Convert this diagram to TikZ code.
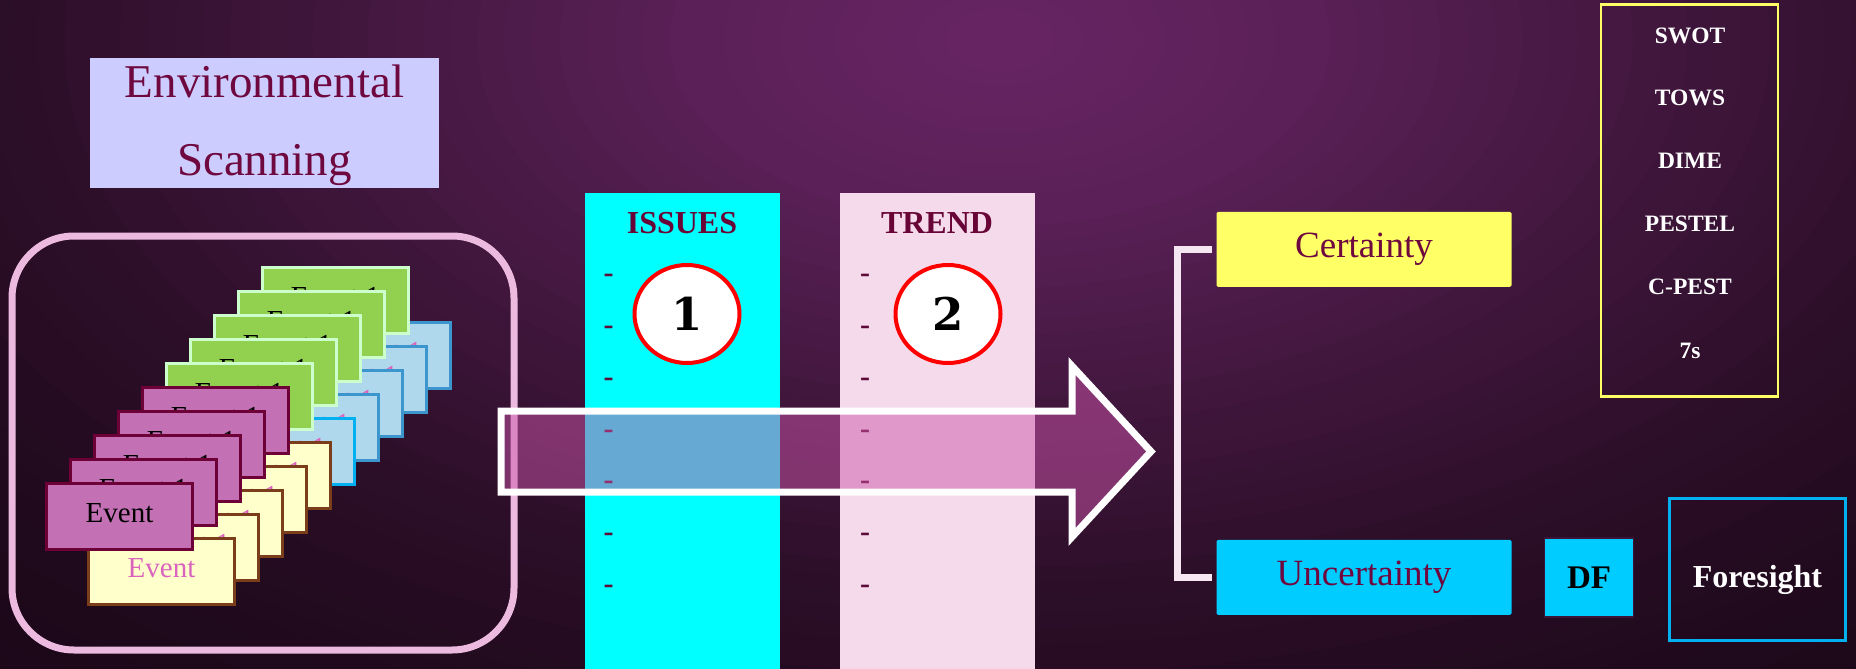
\documentclass[tikz,border=0pt]{standalone}
\usepackage{fontspec}
\setmainfont{Liberation Serif}
\newfontfamily\numfont{DejaVu Serif}
\usetikzlibrary{shapes.geometric}
\definecolor{bgA}{RGB}{104,37,100}
\definecolor{bgB}{RGB}{90,32,87}
\definecolor{bgC}{RGB}{66,23,62}
\definecolor{bgD}{RGB}{44,14,40}
\definecolor{bgE}{RGB}{31,9,28}
\definecolor{bgF}{RGB}{24,7,22}
\definecolor{envfill}{RGB}{204,204,255}
\definecolor{maroon}{RGB}{110,8,62}
\definecolor{hdr}{RGB}{104,4,54}
\definecolor{dashc}{RGB}{92,10,56}
\definecolor{roundc}{RGB}{236,186,222}
\definecolor{cpurple}{RGB}{196,112,180}
\definecolor{cpurpleB}{RGB}{110,0,56}
\definecolor{cgreen}{RGB}{146,208,80}
\definecolor{cgreenB}{RGB}{204,255,204}
\definecolor{cyellow}{RGB}{255,255,204}
\definecolor{cyellowB}{RGB}{122,62,26}
\definecolor{cblue}{RGB}{176,216,236}
\definecolor{cblueB}{RGB}{60,150,205}
\definecolor{cblueF}{RGB}{0,176,240}
\definecolor{cpinktext}{RGB}{216,100,190}
\definecolor{colcyan}{RGB}{0,255,255}
\definecolor{colpink}{RGB}{245,218,236}
\definecolor{arrowfill}{RGB}{204,85,169}
\definecolor{brk}{RGB}{246,230,242}
\definecolor{certfill}{RGB}{255,255,102}
\definecolor{uncfill}{RGB}{0,204,255}
\definecolor{forec}{RGB}{0,176,240}
\definecolor{listc}{RGB}{255,255,102}
\definecolor{dfborder}{RGB}{60,20,55}
\begin{document}
\begin{tikzpicture}[x=1pt,y=-1pt,
  card/.style={rectangle, minimum width=146pt, minimum height=66pt, inner sep=0pt, line width=3pt, text height=20pt, text depth=9pt, font=\fontsize{29}{34}\selectfont},
  purplecard/.style={card, fill=cpurple, draw=cpurpleB, text=black},
  greencard/.style={card, fill=cgreen, draw=cgreenB, text=black},
  yellowcard/.style={card, fill=cyellow, draw=cyellowB, text=cpinktext},
  bluecard/.style={card, fill=cblue, draw=cblueB, text=cpinktext},
  bluefront/.style={bluecard, draw=cblueF},
  dashmark/.style={anchor=base, inner sep=0pt, text=dashc, font=\bfseries\fontsize{30}{30}\selectfont},
  colbox/.style={rectangle, anchor=north west, inner sep=0pt, minimum height=476pt},
  numcirc/.style={ellipse, draw=red, line width=4pt, fill=white, minimum width=105pt, minimum height=98pt, inner sep=0pt, font=\numfont\bfseries\fontsize{45}{45}\selectfont},
  header/.style={anchor=base, inner sep=0pt, text=hdr, font=\bfseries\fontsize{32}{32}\selectfont},
  outcome/.style={rectangle, minimum width=295pt, minimum height=75pt, inner sep=0pt, rounded corners=1.5pt, text=maroon, font=\fontsize{37}{40}\selectfont},
  listitem/.style={anchor=base, inner sep=0pt, text=white, font=\bfseries\fontsize{23.5}{24}\selectfont},
  envtext/.style={anchor=base, inner sep=0pt, text=maroon, font=\fontsize{47}{50}\selectfont}
]
\useasboundingbox (0,0) rectangle (1856,669);
\begin{scope}
\clip (0,0) rectangle (1856,669);
\fill[bgF] (0,0) rectangle (1856,669);
\foreach \i in {0,...,63}{
  \pgfmathsetmacro\rr{1.6-0.025*\i}
  \pgfmathsetmacro\rx{1100*\rr}
  \pgfmathsetmacro\ry{620*\rr}
  \ifdim\rr pt>1.2pt
    \pgfmathsetmacro\tt{(\rr-1.2)/0.4*100}\colorlet{bgtmp}{bgF!\tt!bgE}
  \else\ifdim\rr pt>0.9pt
    \pgfmathsetmacro\tt{(\rr-0.9)/0.3*100}\colorlet{bgtmp}{bgE!\tt!bgD}
  \else\ifdim\rr pt>0.6pt
    \pgfmathsetmacro\tt{(\rr-0.6)/0.3*100}\colorlet{bgtmp}{bgD!\tt!bgC}
  \else\ifdim\rr pt>0.3pt
    \pgfmathsetmacro\tt{(\rr-0.3)/0.3*100}\colorlet{bgtmp}{bgC!\tt!bgB}
  \else
    \pgfmathsetmacro\tt{\rr/0.3*100}\colorlet{bgtmp}{bgB!\tt!bgA}
  \fi\fi\fi\fi
  \fill[bgtmp] (1000,40) ellipse [x radius=\rx, y radius=\ry];
}
\end{scope}

% Environmental Scanning
\node[rectangle, fill=envfill, minimum width=349pt, minimum height=130pt, inner sep=0pt] (env) at (264.5,123.3) {};
\node[envtext] (envt1) at (264.5,98) {Environmental};
\node[envtext] (envt2) at (264.5,175) {Scanning};

% rounded frame
\draw[roundc, line width=7pt, rounded corners=62pt] (12,236) rectangle (514,650);

% back diagonal: blue then yellow
\foreach \k in {9,8,7,6}{
  \node[bluecard] (yb\k) at ({161.5+24*\k},{571.5-24*\k}) {Event 1};
}
\node[bluefront] (yb5) at (281.5,451.5) {Event 1};
\foreach \k in {4,3,2,1}{
  \node[yellowcard] (yb\k) at ({161.5+24*\k},{571.5-24*\k}) {Event 1};
}
\node[yellowcard] (yb0) at (161.5,571.5) {Event};

% front diagonal: green then purple
\foreach \k in {9,8,7,6,5}{
  \node[greencard] (pg\k) at ({119.5+24*\k},{516.5-24*\k}) {Event 1};
}
\foreach \k in {4,3,2,1}{
  \node[purplecard] (pg\k) at ({119.5+24*\k},{516.5-24*\k}) {Event 1};
}
\node[purplecard] (pg0) at (119.5,516.5) {Event};

% columns
\node[colbox, fill=colcyan, minimum width=195pt] (colA) at (584.5,193) {};
\node[colbox, fill=colpink, minimum width=194.5pt] (colB) at (840,193) {};
\node[header] (issues) at (682,233) {ISSUES};
\node[header] (trend) at (937,233) {TREND};
\foreach \y [count=\i] in {276,328,380,432,483,535,587}{
  \node[dashmark] (da\i) at (608.5,\y+6.8) {-};
  \node[dashmark] (db\i) at (865,\y+6.8) {-};
}
\node[numcirc] (c1) at (687,314) {1};
\node[numcirc] (c2) at (948,314) {2};

% big arrow
\draw[white, line width=7pt, line join=miter, fill=arrowfill, fill opacity=0.5]
  (501,411) -- (1072,411) -- (1072,366) -- (1151,451.5) -- (1072,537) -- (1072,492) -- (501,492) -- cycle;

% outcomes
\node[outcome, fill=certfill] (cert) at (1364,249.4) {Certainty};
\node[outcome, fill=uncfill] (unc) at (1364,577.3) {Uncertainty};
\draw[brk, line width=7pt, line join=miter] ([xshift=-4pt]cert.west) -- ++(-35,0) |- ([xshift=-4pt]unc.west);

\node[rectangle, fill=uncfill, draw=dfborder, line width=1.5pt, minimum width=89pt, minimum height=79pt, inner sep=0pt, font=\bfseries\fontsize{33}{33}\selectfont] (df) at (1589,577.5) {DF};
\node[rectangle, draw=forec, line width=2.5pt, minimum width=176pt, minimum height=142pt, inner sep=0pt, text height=40pt, text depth=5pt, text=white, font=\bfseries\fontsize{32}{32}\selectfont] (fore) at (1757.5,569.5) {Foresight};

% tools list
\node[rectangle, draw=listc, line width=2.5pt, minimum width=177pt, minimum height=392pt, inner sep=0pt] (tools) at (1689.5,200.5) {};
\node[listitem] (swot) at (1690,44) {SWOT};
\node[listitem] (tows) at (1690,106) {TOWS};
\node[listitem] (dime) at (1690,168) {DIME};
\node[listitem] (pestel) at (1690,231) {PESTEL};
\node[listitem] (cpest) at (1690,294) {C-PEST};
\node[listitem] (sevens) at (1690,358) {7s};
\end{tikzpicture}
\end{document}
